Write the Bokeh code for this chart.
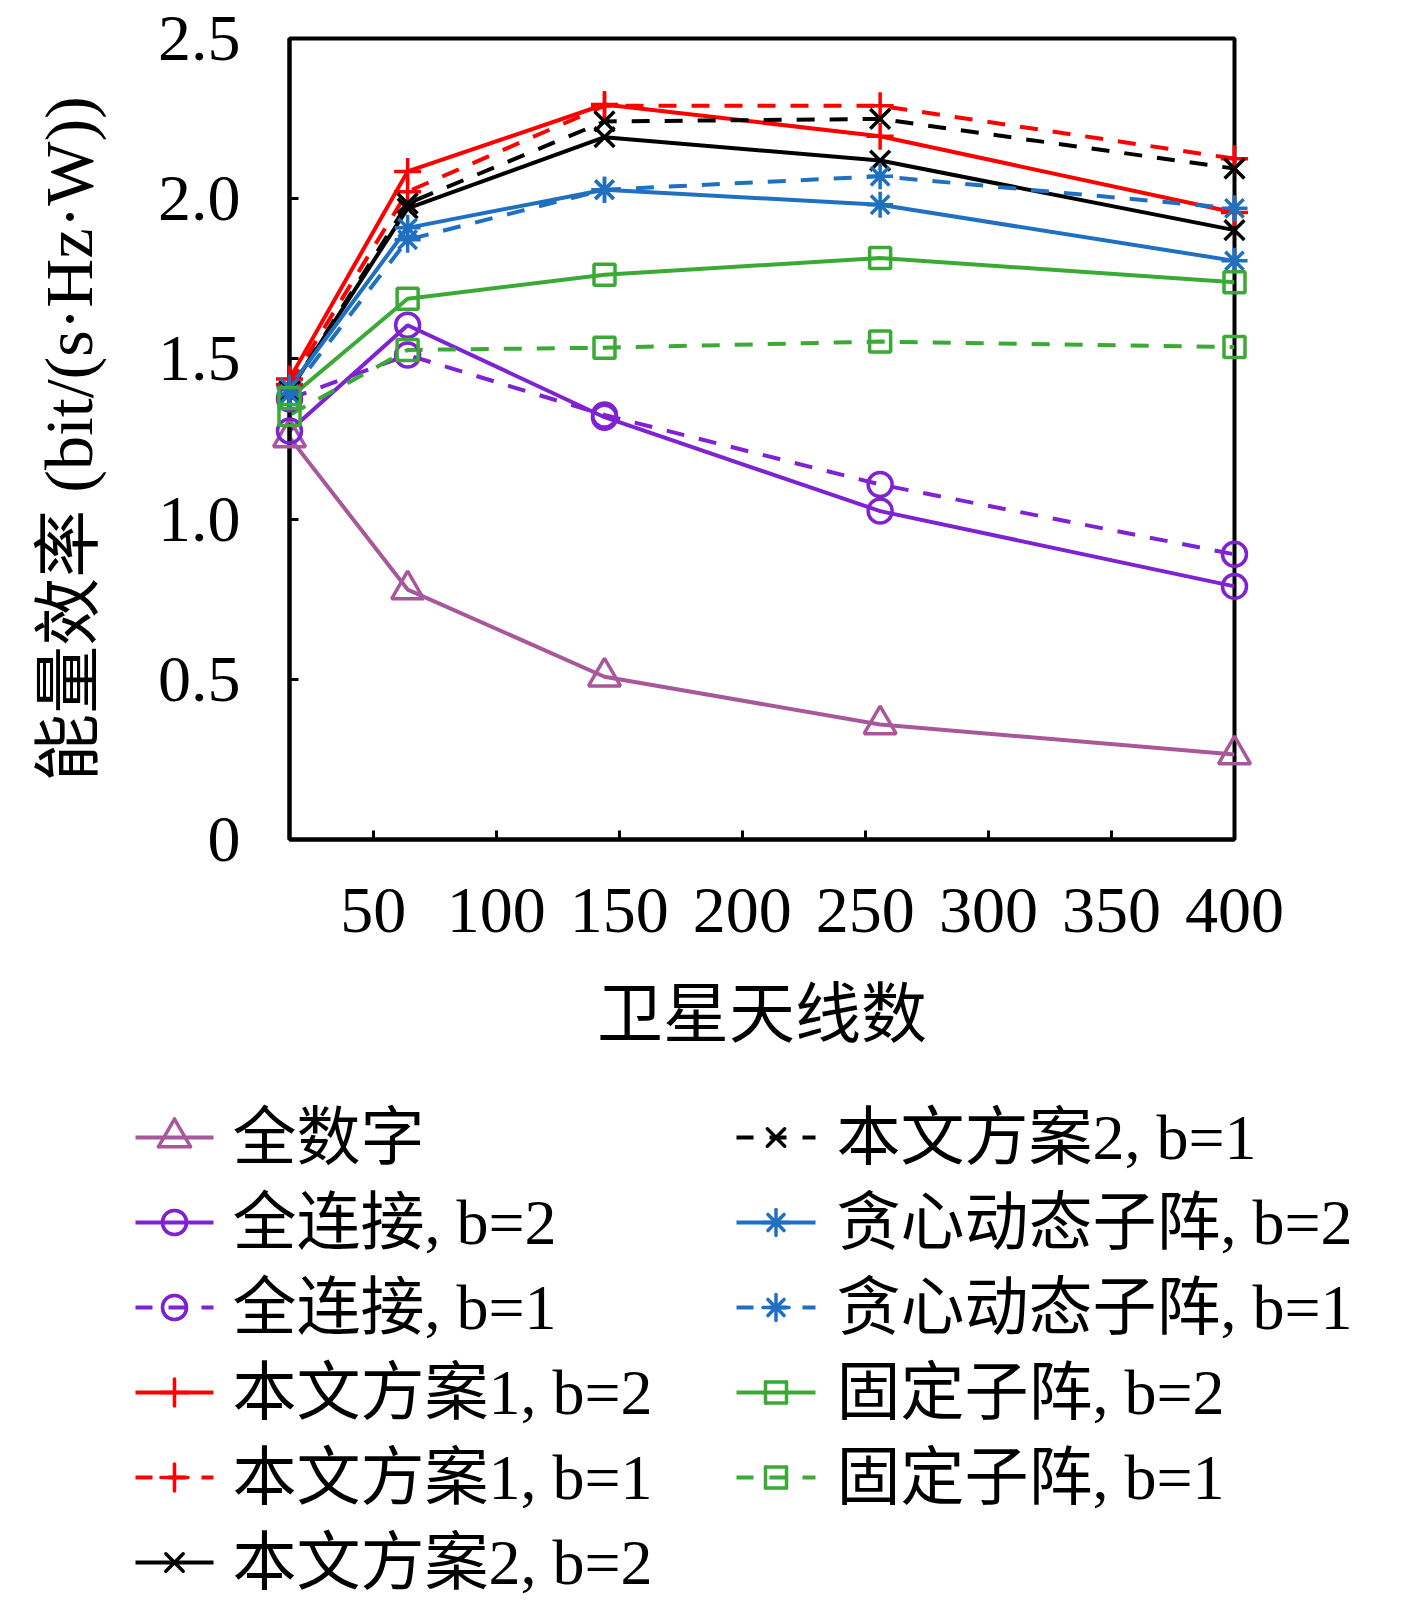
import math
from bokeh.plotting import figure
from bokeh.models import Range1d, FixedTicker, PrintfTickFormatter
from bokeh.core.properties import value
from bokeh.embed import file_html
from bokeh.resources import INLINE

# ---- data ----
antennas = [16, 64, 144, 256, 400]
full_digital = [1.255, 0.78, 0.508, 0.359, 0.265]
fc_b2 = [1.275, 1.605, 1.318, 1.025, 0.79]
fc_b1 = [1.375, 1.512, 1.325, 1.108, 0.89]
p1_b2 = [1.437, 2.085, 2.294, 2.195, 1.957]
p1_b1 = [1.42, 2.022, 2.29, 2.29, 2.125]
p2_b2 = [1.40, 1.97, 2.192, 2.119, 1.902]
p2_b1 = [1.40, 1.985, 2.241, 2.249, 2.094]
gd_b2 = [1.41, 1.909, 2.028, 1.981, 1.806]
gd_b1 = [1.39, 1.872, 2.028, 2.07, 1.970]
fs_b2 = [1.378, 1.6875, 1.7625, 1.815, 1.739]
fs_b1 = [1.325, 1.528, 1.535, 1.554, 1.537]

labels = ["全数字", "全连接, b=2", "全连接, b=1", "本文方案1, b=2", "本文方案1, b=1",
          "本文方案2, b=2", "本文方案2, b=1", "贪心动态子阵, b=2", "贪心动态子阵, b=1",
          "固定子阵, b=2", "固定子阵, b=1"]
x_ticks = [50, 100, 150, 200, 250, 300, 350, 400]
y_ticks = [0, 0.5, 1.0, 1.5, 2.0, 2.5]
x_title = "卫星天线数"
y_title = "能量效率 (bit/(s·Hz·W))"

FONT = "Liberation Serif, Noto Sans CJK SC"

C_TRI = "#a8579b"
C_PUR = "#7f22d1"
C_RED = "#ff0000"
C_BLK = "#000000"
C_BLU = "#1f70c1"
C_GRN = "#3aaa35"

DASH = "18 15"
LEG_DASH = "17 16"
LW = 4
MLW = 3.5

series = [
    (full_digital, C_TRI, "solid", "triangle", 32),
    (fc_b2, C_PUR, "solid", "circle", 24),
    (fc_b1, C_PUR, DASH, "circle", 24),
    (p1_b2, C_RED, "solid", "cross", 27),
    (p1_b1, C_RED, DASH, "cross", 27),
    (p2_b2, C_BLK, "solid", "x", 28),
    (p2_b1, C_BLK, DASH, "x", 28),
    (gd_b2, C_BLU, "solid", "asterisk", 26),
    (gd_b1, C_BLU, DASH, "asterisk", 26),
    (fs_b2, C_GRN, "solid", "square", 21),
    (fs_b1, C_GRN, DASH, "square", 21),
]

# ---- layout constants (canvas pixels) ----
W, H = 1400, 1598
FL, FR, FT, FB = 289, 1234, 38, 839

p = figure(width=W, height=H, output_backend="svg", toolbar_location=None,
           x_range=Range1d(16, 400), y_range=Range1d(0, 2.5),
           min_border_left=FL, min_border_right=W - FR, min_border_top=FT,
           min_border_bottom=H - FB)
# pixel-space ranges for the legend block drawn below the axes
p.extra_x_ranges = {"px": Range1d(FL, FR)}
p.extra_y_ranges = {"px": Range1d(FB, FT)}

p.grid.visible = False
p.outline_line_color = "black"
p.outline_line_width = 4
p.outline_line_alpha = 1.0

for ax in (p.xaxis[0], p.yaxis[0]):
    ax.axis_line_width = 4
    ax.major_tick_in = 9
    ax.major_tick_out = 0
    ax.major_tick_line_width = 3
    ax.minor_tick_line_color = None
    ax.major_label_text_font = FONT
    ax.major_label_text_font_size = "66px"
    ax.major_label_text_color = "black"
    ax.axis_label_text_font = FONT
    ax.axis_label_text_font_style = "normal"
    ax.axis_label_text_color = "black"

p.xaxis.axis_label_text_font_size = "66px"
p.yaxis.axis_label_text_font_size = "68px"
p.xaxis.ticker = FixedTicker(ticks=x_ticks)
p.yaxis.ticker = FixedTicker(ticks=y_ticks)
p.yaxis.formatter = PrintfTickFormatter(format="%.1f")
p.yaxis.major_label_overrides = {0: "0"}
p.xaxis.axis_label = x_title
p.yaxis.axis_label = y_title
p.xaxis.major_label_standoff = 49
p.xaxis.axis_label_standoff = 43
p.yaxis.major_label_standoff = 49
p.yaxis.axis_label_standoff = 48

for vals, color, dash, marker, size in series:
    p.line(antennas, vals, line_color=color, line_width=LW, line_dash=dash)
    p.scatter(antennas, vals, marker=marker, size=size, line_color=color,
              line_width=MLW, fill_color=None, level="overlay")

# ---- legend (two columns, column-major), drawn in pixel space ----
LEG_Y0, LEG_DY = 1137, 85
LEG_COLS = [(135, 213, 232), (736, 815, 836)]
ROWS_PER_COL = 6


def symbol_strokes(marker, size):
    """Stroke offsets (dx0, dy0, dx1, dy1) of a legend symbol, screen y down."""
    r = size / 2
    if marker == "circle":
        n = 36
        pts = [(r * math.cos(2 * math.pi * k / n), r * math.sin(2 * math.pi * k / n))
               for k in range(n + 1)]
        return [(pts[k][0], pts[k][1], pts[k + 1][0], pts[k + 1][1]) for k in range(n)]
    if marker == "triangle":
        h = r * math.sqrt(3)
        a = h / 3
        v = [(-r, a), (r, a), (0, a - h)]
        return [(v[k][0], v[k][1], v[(k + 1) % 3][0], v[(k + 1) % 3][1]) for k in range(3)]
    if marker == "square":
        v = [(-r, -r), (r, -r), (r, r), (-r, r)]
        return [(v[k][0], v[k][1], v[(k + 1) % 4][0], v[(k + 1) % 4][1]) for k in range(4)]
    if marker == "cross":
        return [(0, -r, 0, r), (-r, 0, r, 0)]
    if marker == "x":
        q = r * 0.62
        return [(-q, -q, q, q), (-q, q, q, -q)]
    if marker == "asterisk":
        q = r * 0.62
        return [(0, -r, 0, r), (-r, 0, r, 0), (-q, -q, q, q), (-q, q, q, -q)]
    return []


for i, ((vals, color, dash, marker, size), lab) in enumerate(zip(series, labels)):
    col, row = divmod(i, ROWS_PER_COL)
    x0, x1, tx = LEG_COLS[col]
    y = LEG_Y0 + row * LEG_DY
    cx = (x0 + x1) / 2
    ldash = "solid" if dash == "solid" else LEG_DASH
    p.segment(x0=[x0], y0=[y], x1=[x1], y1=[y], line_color=color, line_width=LW,
              line_dash=ldash, x_range_name="px", y_range_name="px", level="overlay")
    st = symbol_strokes(marker, size)
    p.segment(x0=[cx + s[0] for s in st], y0=[y + s[1] for s in st],
              x1=[cx + s[2] for s in st], y1=[y + s[3] for s in st],
              line_color=color, line_width=MLW, line_cap="round",
              x_range_name="px", y_range_name="px", level="overlay")
    p.text(x=[tx], y=[y], text=[lab], text_font=value(FONT), text_font_size="64px",
           text_color="black", text_baseline="middle", text_align="left",
           x_range_name="px", y_range_name="px", level="overlay")

open("out.html", "w").write(file_html(p, INLINE))
